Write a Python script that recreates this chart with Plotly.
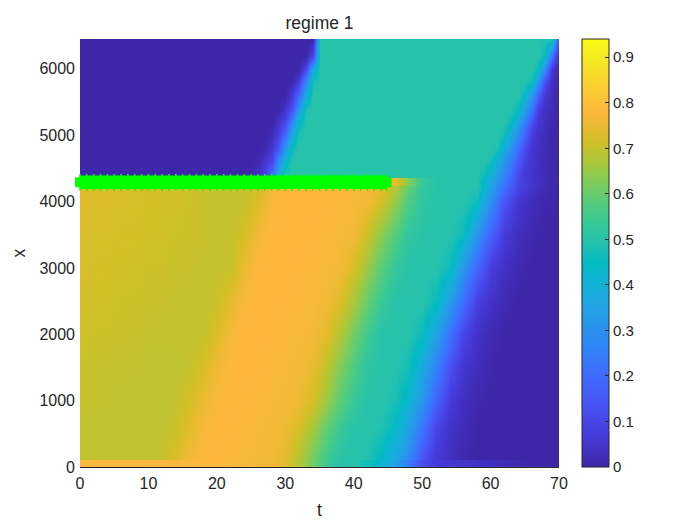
import plotly.graph_objects as go

# colormap stops (parula), sampled from the colorbar
cmap = [
    [0.000, "#3e26a8"], [0.079, "#463cde"], [0.143, "#4852f4"], [0.222, "#3e6fff"], [0.286, "#2e87f7"],
    [0.365, "#23a0e5"], [0.429, "#12b1d6"], [0.476, "#02bac3"], [0.524, "#24c1ae"], [0.571, "#37c897"],
    [0.619, "#57cc7a"], [0.667, "#81cc59"], [0.714, "#abc739"], [0.762, "#d1bf27"], [0.800, "#ecba32"],
    [0.830, "#fdb83c"], [0.889, "#fccf30"], [0.937, "#f5e327"], [1.000, "#f9fb15"],
]

# lower block: below the front
t_low = [0, 2, 4, 6, 8, 10, 12, 14, 16, 18, 20, 22, 24, 26, 28, 30, 32, 34,
         36, 38, 40, 42, 44, 46, 48, 50, 52, 54, 56, 58, 60, 62, 64, 66, 68, 70]
x_low = [0, 100, 110, 600, 1000, 1500, 2000, 2500, 3000, 3500, 4000, 4240, 4250, 4350, 4354]

row_0 = [.78, .78, .78, .78, .78, .78, .78, .78, .78, .78, .78, .775, .77, .765, .76, .74, .68, .61,
         .55, .50, .50, .47, .42, .35, .24, .12, .07, .06, .05, .04, .03, .02, .01, 0, 0, 0]
row_100 = row_0
row_110 = [.695, .695, .695, .695, .695, .695, .70, .73, .765, .78, .78, .775, .77, .765, .76, .74, .68, .61,
           .55, .50, .50, .49, .44, .37, .28, .14, .06, .03, .01, 0, 0, 0, 0, 0, 0, 0]
row_600 = [.70, .695, .695, .695, .695, .695, .695, .705, .735, .77, .78, .78, .775, .77, .765, .755, .725, .665,
           .595, .54, .50, .50, .49, .44, .355, .23, .10, .045, .02, 0, 0, 0, 0, 0, 0, 0]
row_1000 = [.705, .70, .70, .695, .695, .695, .695, .70, .72, .75, .775, .78, .78, .775, .77, .765, .755, .72,
            .66, .585, .535, .50, .50, .48, .42, .31, .18, .07, .03, .01, 0, 0, 0, 0, 0, 0]
row_1500 = [.71, .705, .70, .70, .70, .695, .695, .695, .70, .725, .76, .78, .78, .78, .775, .77, .765, .745,
            .695, .625, .565, .515, .50, .50, .47, .375, .26, .125, .055, .025, .005, 0, 0, 0, 0, 0]
row_2000 = [.715, .71, .71, .705, .705, .70, .70, .70, .70, .70, .73, .77, .78, .78, .78, .775, .77, .765,
            .74, .68, .61, .55, .50, .50, .50, .46, .35, .22, .10, .04, .015, 0, 0, 0, 0, 0]
row_2500 = [.72, .715, .715, .71, .71, .705, .705, .70, .70, .70, .705, .74, .775, .78, .78, .78, .775, .77,
            .765, .73, .67, .60, .54, .50, .50, .50, .46, .33, .21, .085, .04, .015, 0, 0, 0, 0]
row_3000 = [.725, .72, .72, .715, .715, .71, .71, .705, .705, .70, .70, .705, .75, .78, .78, .78, .78, .775,
            .77, .765, .72, .655, .585, .53, .50, .50, .50, .46, .315, .185, .075, .035, .012, 0, 0, 0]
row_3500 = [.73, .725, .725, .72, .72, .715, .715, .71, .71, .705, .70, .70, .72, .765, .78, .78, .78, .78,
            .775, .77, .765, .71, .64, .575, .525, .50, .50, .50, .46, .305, .17, .07, .03, .008, 0, 0]
row_4000 = [.735, .73, .73, .725, .725, .72, .715, .715, .71, .705, .70, .70, .70, .73, .775, .78, .78, .78,
            .78, .775, .77, .765, .72, .65, .57, .52, .50, .50, .50, .46, .29, .14, .055, .022, .005, 0]
row_4240 = [.735, .73, .73, .725, .725, .72, .715, .715, .71, .705, .70, .70, .70, .715, .76, .78, .78, .78,
            .78, .78, .775, .77, .75, .68, .60, .53, .50, .50, .50, .50, .35, .22, .10, .045, .02, 0]
row_4250 = [.735, .73, .73, .725, .725, .72, .715, .715, .71, .705, .70, .70, .70, .715, .76, .78, .78, .78,
            .78, .78, .78, .78, .78, .76, .63, .535, .50, .50, .50, .50, .355, .225, .10, .045, .02, 0]
row_4350 = [.735, .73, .73, .725, .725, .72, .715, .715, .71, .705, .70, .70, .70, .715, .76, .78, .78, .78,
            .78, .78, .78, .78, .78, .76, .63, .535, .50, .50, .50, .50, .38, .25, .105, .045, .02, 0]
row_4354 = row_4350

z_low = [row_0, row_100, row_110, row_600, row_1000, row_1500, row_2000, row_2500, row_3000, row_3500,
         row_4000, row_4240, row_4250, row_4350, row_4354]

# upper block: above the front, finer in t because the bands are sharp
t_up = list(range(71))
x_up = [4357, 4360, 4600, 4800, 5000, 5200, 5400, 5600, 5800, 6000, 6200, 6450]

row_4360 = [0] * 25 + [.01, .05, .095, .25, .39] + [.50] * 29 + [.46, .38, .32, .25, .18, .105, .06, .045, .03, .02, .01, 0]
row_4357 = row_4360
row_4600 = [0] * 26 + [.01, .055, .10, .28, .42] + [.50] * 29 + [.47, .40, .31, .235, .15, .08, .05, .03, .018, .005, 0]
row_4800 = [0] * 27 + [.01, .06, .135, .315, .46] + [.50] * 29 + [.49, .39, .30, .21, .115, .055, .03, .02, .005, 0]
row_5000 = [0] * 28 + [.02, .08, .205, .375, .49] + [.50] * 29 + [.47, .37, .28, .165, .07, .04, .025, .005, 0]
row_5200 = [0] * 29 + [.04, .095, .275, .425] + [.50] * 30 + [.46, .36, .25, .13, .055, .03, .01, 0]
row_5400 = [0] * 30 + [.05, .13, .33, .485] + [.50] * 30 + [.46, .35, .22, .085, .035, .015, 0]
row_5600 = [0] * 31 + [.065, .195, .38] + [.50] * 31 + [.44, .32, .17, .055, .025, 0]
row_5800 = [0] * 32 + [.085, .28, .475] + [.50] * 31 + [.46, .315, .12, .03, .003]
row_6000 = [0] * 33 + [.10, .37] + [.50] * 32 + [.46, .28, .055, .005]
row_6200 = [0] * 34 + [.10] + [.50] * 33 + [.45, .215, .02]
row_6450 = [0] * 35 + [.50] * 35 + [.10]

z_up = [row_4357, row_4360, row_4600, row_4800, row_5000, row_5200, row_5400, row_5600, row_5800,
        row_6000, row_6200, row_6450]

# green marker track
track_t = [0, 1, 2, 3, 4, 5, 6, 7, 8, 9, 10, 11, 12, 13, 14, 15, 16, 17, 18, 19, 20, 21, 22, 23,
           24, 25, 26, 27, 28, 29, 30, 31, 32, 33, 34, 35, 36, 37, 38, 39, 40, 41, 42, 43, 44, 44.8]
track_x = [4290] * len(track_t)

cbar_ticks = [0, 0.1, 0.2, 0.3, 0.4, 0.5, 0.6, 0.7, 0.8, 0.9]
cbar_labels = ["0", "0.1", "0.2", "0.3", "0.4", "0.5", "0.6", "0.7", "0.8", "0.9"]

txt = "#262626"
font = "Liberation Sans"
green = "#00ff00"

fig = go.Figure()

fig.add_trace(go.Heatmap(
    x=t_up, y=x_up, z=z_up,
    zmin=0, zmax=0.94,
    zsmooth="best",
    colorscale=cmap,
    showscale=False,
    hoverinfo="skip",
))

fig.add_trace(go.Heatmap(
    x=t_low, y=x_low, z=z_low,
    zmin=0, zmax=0.94,
    zsmooth="best",
    colorscale=cmap,
    hoverinfo="skip",
    colorbar=dict(
        x=1.048, xanchor="left", y=0, yanchor="bottom",
        len=1, lenmode="fraction",
        thickness=27, thicknessmode="pixels",
        xpad=0, ypad=0,
        outlinecolor=txt, outlinewidth=1,
        tickmode="array", tickvals=cbar_ticks, ticktext=cbar_labels,
        ticks="inside", ticklen=4, tickwidth=1, tickcolor=txt,
        tickfont=dict(family=font, size=15, color=txt),
    ),
))

# solid band with blunt ends
fig.add_trace(go.Scatter(
    x=track_t, y=track_x,
    mode="lines+markers",
    line=dict(color=green, width=13.5),
    marker=dict(symbol="square", size=9, color=green, line=dict(color=green, width=1)),
    cliponaxis=False,
    showlegend=False,
    hoverinfo="skip",
))
# the small teeth along both edges
fig.add_trace(go.Scatter(
    x=track_t, y=track_x,
    mode="markers",
    marker=dict(symbol="line-ns-open", size=12, color=green, line=dict(color=green, width=1.5)),
    cliponaxis=False,
    showlegend=False,
    hoverinfo="skip",
))

# the page body adds 8px, so the figure is 8px smaller on both sides
fig.update_layout(
    width=692, height=517,
    margin=dict(l=72, r=141, t=31, b=58, autoexpand=False),
    paper_bgcolor="white", plot_bgcolor="white",
    font=dict(family=font, color=txt),
    title=dict(text="regime 1", x=311.5 / 692, xanchor="center", xref="container",
               y=1 - 15 / 517, yanchor="middle", yref="container",
               font=dict(family=font, size=17.5, color=txt)),
    showlegend=False,
)
fig.update_xaxes(
    range=[0, 70], tickvals=[0, 10, 20, 30, 40, 50, 60, 70],
    ticks="inside", ticklen=5, tickcolor=txt, tickfont=dict(family=font, size=16, color=txt),
    ticklabelstandoff=2,
    showline=True, linecolor=txt, linewidth=1, showgrid=False, zeroline=False, layer="below traces",
    title=dict(text="t", font=dict(family=font, size=17.5, color=txt), standoff=12),
)
fig.update_yaxes(
    range=[0, 6450], tickvals=[0, 1000, 2000, 3000, 4000, 5000, 6000],
    tickformat="d",
    ticks="inside", ticklen=5, tickcolor=txt, tickfont=dict(family=font, size=16, color=txt),
    ticklabelstandoff=4,
    showline=False, showgrid=False, zeroline=False, layer="below traces",
    title=dict(text="x", font=dict(family=font, size=17.5, color=txt), standoff=9),
)

fig.write_html("out.html", config=dict(displayModeBar=False))
